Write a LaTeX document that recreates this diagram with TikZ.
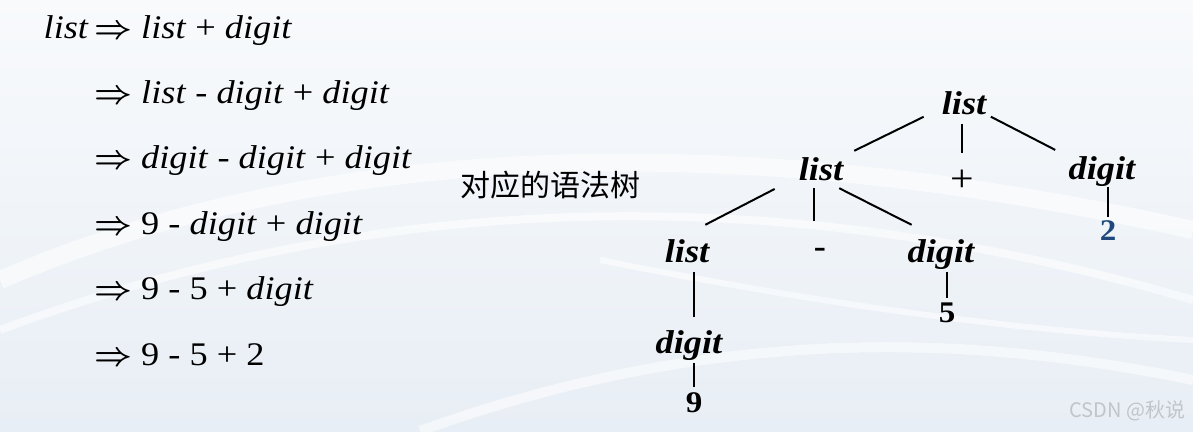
\RequirePackage{fix-cm}
\documentclass[tikz,border=0pt]{standalone}
\usepackage{fontspec}
\setmainfont{Liberation Serif}[FakeStretch=1.1]
\newfontfamily\cjkfont{Noto Sans CJK SC}
\usetikzlibrary{calc}
\definecolor{bgtop}{RGB}{248,250,252}
\definecolor{bgbot}{RGB}{232,238,245}
\definecolor{leafblue}{RGB}{31,73,125}
\definecolor{markgray}{RGB}{192,197,204}

\begin{document}
\begin{tikzpicture}[x=1pt,y=-1pt,
deriv/.style={font=\fontsize{33}{40}\selectfont,inner sep=0pt,anchor=base west},
tword/.style={font=\fontsize{33}{40}\selectfont\bfseries\itshape,
text height=32pt,text depth=8pt,inner sep=0pt,anchor=base},
tsym/.style={tword,font=\fontsize{38}{44}\selectfont},
tleaf/.style={font=\fontsize{30}{36}\selectfont\bfseries,
text height=22pt,text depth=0pt,inner sep=0pt,anchor=base},
branch/.style={line width=2pt},
swoosh/.style={white,line width=#1,opacity=0.55},
]
\useasboundingbox (0,0) rectangle (1193,431);
% background
\fill[top color=bgtop,bottom color=bgbot] (0,0) rectangle (1193,431);
\draw[swoosh=18pt] (0,280) .. controls (300,150) and (700,120) .. (1193,230);
\draw[swoosh=8pt] (0,330) .. controls (350,200) and (750,170) .. (1193,300);
\draw[swoosh=10pt] (420,431) .. controls (700,330) and (950,330) .. (1193,380);
\draw[swoosh=6pt] (600,260) .. controls (800,300) and (1000,330) .. (1193,340);

% derivation
\node (lhs) [deriv,anchor=base east] at (89,38) {\textit{list}};
\node (step1) [deriv] at (94,38) {{\boldmath$\Rightarrow$} \textit{list} + \textit{digit}};
\node (step2) [deriv] at (94,103.4) {{\boldmath$\Rightarrow$} \textit{list} - \textit{digit} + \textit{digit}};
\node (step3) [deriv] at (94,168.8) {{\boldmath$\Rightarrow$} \textit{digit} - \textit{digit} + \textit{digit}};
\node (step4) [deriv] at (94,234.2) {{\boldmath$\Rightarrow$} 9 - \textit{digit} + \textit{digit}};
\node (step5) [deriv] at (94,299.6) {{\boldmath$\Rightarrow$} 9 - 5 + \textit{digit}};
\node (step6) [deriv] at (94,365) {{\boldmath$\Rightarrow$} 9 - 5 + 2};

\node (caption) [font=\cjkfont\fontsize{30}{34}\selectfont,anchor=west] at (457,185) {对应的语法树};

% parse tree
\node (root) [tword] at (964,114) {list};
\node (l2) [tword] at (821,180) {list};
\node (plus) [tsym] at (962,191) {+};
\node (d1) [tword] at (1102,179) {digit};
\node (two) [tleaf,text=leafblue] at (1108,240) {2};
\node (l3) [tword] at (687,262) {list};
\node (minus) [tsym,font=\fontsize{33}{40}\selectfont\bfseries] at (820,257) {-};
\node (d2) [tword] at (941,262) {digit};
\node (five) [tleaf] at (947,322) {5};
\node (d3) [tword] at (689,353) {digit};
\node (nine) [tleaf] at (694,412) {9};

\draw[branch,shorten <=20pt,shorten >=12pt] (root.195) -- (l2.28);
\draw[branch,shorten <=2pt,shorten >=6pt] (plus.north |- root.south) -- (plus.north);
\draw[branch,shorten <=5pt,shorten >=15pt] (root.-29) -- (d1.163);
\draw[branch,shorten <=27pt,shorten >=11pt] (l2.201) -- (l3.67);
\draw[branch,shorten >=4pt] (minus.north west |- l2.south) -- (minus.north west);
\draw[branch,shorten >=11pt] (l2.-48) -- (d2.134);
\draw[branch,shorten >=1pt] (two.north |- d1.south) -- (two.north);
\draw[branch,shorten <=2pt,shorten >=4pt] (d3.76 |- l3.south) -- (d3.76);
\draw[branch,shorten <=2pt,shorten >=3pt] (nine.north |- d3.south) -- (nine.north);
\draw[branch,shorten <=2pt,shorten >=2pt] (five.north |- d2.south) -- (five.north);

\node (mark) [font=\cjkfont\fontsize{20}{24}\selectfont,text=markgray,anchor=east] at (1189,411) {CSDN @秋说};
\end{tikzpicture}
\end{document}
